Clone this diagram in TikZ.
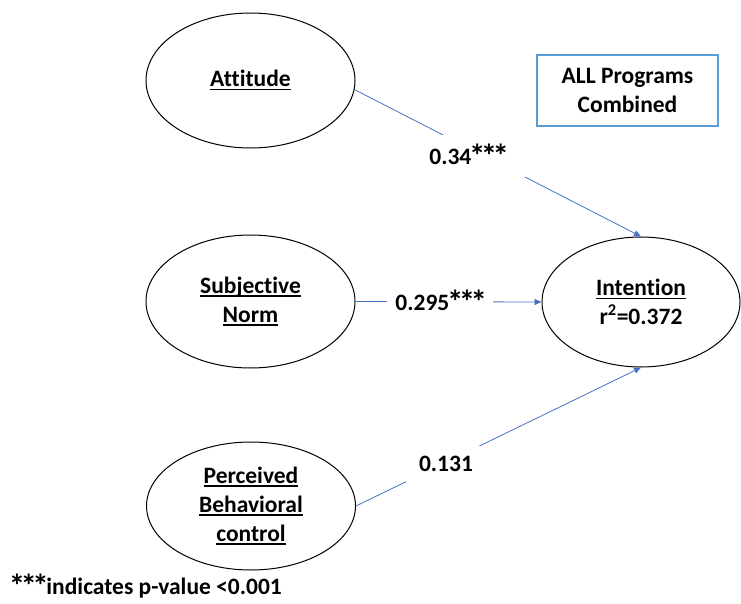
\documentclass[tikz,border=0pt]{standalone}
\usepackage{fontspec}
\setmainfont{Carlito}[Ligatures=CommonOff]
\usepackage{graphicx}
\usepackage{tikz}
\usetikzlibrary{shapes.geometric,arrows.meta}
\definecolor{pathblue}{RGB}{68,114,196}
\definecolor{boxblue}{RGB}{91,155,213}
\newcommand{\ulin}[1]{\setbox0\hbox{#1}\rlap{\rule[-3.5pt]{\wd0}{1.6pt}}\box0}
\newcommand{\onestar}{\makebox[0.5em]{\raisebox{-3pt}{\scalebox{1.4}{*}}}}
\newcommand{\sig}{\onestar\onestar\onestar}

\begin{document}
\begin{tikzpicture}[x=1pt,y=-1pt,
	every node/.style={font=\fontsize{23.5}{29}\selectfont\bfseries},
	construct/.style={shape=ellipse,draw=black,line width=1pt,inner sep=0pt,minimum width=209pt,align=center},
	link/.style={color=pathblue,line width=0.8pt,-{Triangle[length=7pt,width=6pt]}},
	weight/.style={fill=white,inner sep=0pt}]
	\useasboundingbox (0,0) rectangle (741,604);
	
	\node[construct,minimum height=135pt] (att) at (250.5,80.5)     {\ulin{Attitude}};
	\node[construct,minimum height=133pt] (sn) at (250.5,301.5)     {\ulin{Subjective}\\\ulin{Norm}};
	\node[construct,minimum height=128pt] (pbc) at (251,506)     {\ulin{Perceived}\\\ulin{Behavioral}\\\ulin{control}};
	\node[construct,minimum width=198pt,minimum height=130pt] (int) at (641,302)     {\ulin{Intention}\\r\textsuperscript{2}=0.372};
	\node[draw=boxblue,line width=1.3pt,minimum width=181pt,minimum height=71pt,align=center] (all) at (627.5,90.5)     {ALL Programs\\Combined};
	\node[anchor=base west,inner sep=0pt] (note) at (11,594)     {\sig indicates p-value <0.001};
	
	\path[link] (att.-5) edge (int.north);
	\path[link] (sn.east) edge (int.west);
	\path[link] (pbc.east) edge (int.south);
	
	\node[weight,minimum width=120pt,minimum height=42pt] (w1) at (468,156)     {0.34\sig};
	\node[weight,minimum width=106pt,minimum height=36pt] (w2) at (440,302)     {0.295\sig};
	\node[weight,minimum width=80pt,minimum height=36pt] (w3) at (446,464)     {0.131};
\end{tikzpicture}
\end{document}
